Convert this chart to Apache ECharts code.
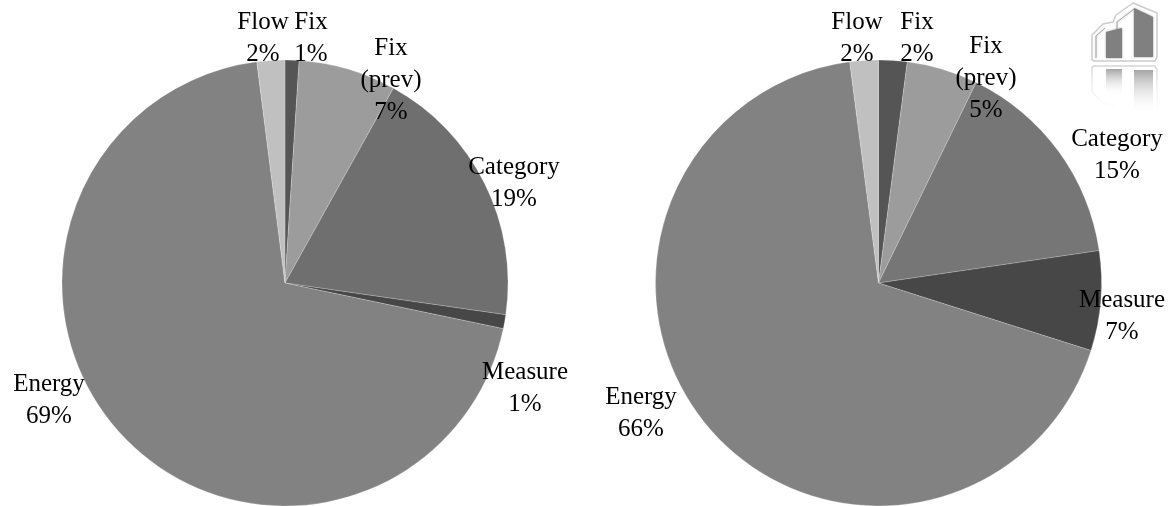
<!DOCTYPE html>
<html>
<head>
<meta charset="utf-8">
<style>html,body{margin:0;padding:0;background:#fff}#chart{width:1176px;height:506px}</style>
<script src="https://cdn.jsdelivr.net/npm/echarts@6/dist/echarts.min.js"></script>
</head>
<body>
<div id="chart"></div>
<script>
// Slice names, clockwise from twelve o'clock
const categories = ['Fix', 'Fix\n(prev)', 'Category', 'Measure', 'Energy', 'Flow'];
const leftValues = [1, 7, 19, 1, 69, 2];
const rightValues = [2, 5, 15, 7, 66, 2];

const leftColors = ['#555555', '#9c9c9c', '#6f6f6f', '#474747', '#828282', '#c0c0c0'];
const rightColors = ['#555555', '#9c9c9c', '#767676', '#474747', '#828282', '#c0c0c0'];

// Label centres in page pixels, one list per pie
const leftLabelSpots = [[311, 38], [391, 80], [514, 183], [525, 388], [49, 400], [263, 38]];
const rightLabelSpots = [[917, 38], [986, 78], [1117, 155], [1122, 316], [641, 413], [857, 38]];

function pie(values, colors, spots, center) {
  return {
    type: 'pie',
    center: center,
    radius: [0, 223],
    startAngle: 90,
    clockwise: true,
    silent: true,
    animation: false,
    data: categories.map((name, i) => ({ name, value: values[i], itemStyle: { color: colors[i] } })),
    itemStyle: { borderColor: 'rgba(255,255,255,0.35)', borderWidth: 0.6 },
    label: {
      show: true,
      position: 'outside',
      formatter: '{b}\n{c}%',
      fontFamily: '"Liberation Serif", serif',
      fontSize: 25,
      lineHeight: 32,
      color: '#000',
      align: 'center',
      overflow: 'none'
    },
    labelLine: { show: false },
    labelLayout: params => ({
      x: spots[params.dataIndex][0],
      y: spots[params.dataIndex][1],
      align: 'center',
      verticalAlign: 'middle',
      hideOverlap: false
    })
  };
}

// Company mark in the top right corner: two towers and their fading reflection
const towerOutline = [[1092,60],[1092,35],[1103,24],[1113,22],[1116,15],[1133,3],[1157,13],[1157,57],[1155,61],[1094,61]];
const leftArch = [[1096,58],[1096,36],[1105,28]];
const rightArch = [[1117,57],[1117,22],[1134,9]];
const towerLeft = [[1106,32],[1122,28],[1122,58],[1106,58]];
const towerRight = [[1134,8],[1153,17],[1153,57],[1134,57]];
const mirrorSum = 127;
const mirror = pts => pts.map(([x, y]) => [x, mirrorSum - y]);

function fade(from) {
  return new echarts.graphic.LinearGradient(0, 0, 0, 1, [
    { offset: 0, color: from },
    { offset: 0.9, color: 'rgba(255,255,255,0)' },
    { offset: 1, color: 'rgba(255,255,255,0)' }
  ]);
}

const soft = color => ({ shadowBlur: 2, shadowColor: color });

const logo = [
  { type: 'polygon', shape: { points: mirror(towerOutline) }, style: { fill: 'none', stroke: fade('rgba(205,205,205,0.9)'), lineWidth: 1.5 }, silent: true },
  { type: 'polygon', shape: { points: mirror(towerLeft) }, style: { fill: fade('rgba(165,165,165,1)') }, silent: true },
  { type: 'polygon', shape: { points: mirror(towerRight) }, style: { fill: fade('rgba(165,165,165,1)') }, silent: true },
  { type: 'polygon', shape: { points: towerOutline }, style: { fill: '#fff', stroke: '#cccccc', lineWidth: 1.5, lineJoin: 'round' }, silent: true },
  { type: 'polyline', shape: { points: leftArch }, style: { stroke: '#a8a8a8', lineWidth: 1, fill: 'none', ...soft('#bbbbbb') }, silent: true },
  { type: 'polyline', shape: { points: rightArch }, style: { stroke: '#a8a8a8', lineWidth: 1, fill: 'none', ...soft('#bbbbbb') }, silent: true },
  { type: 'polygon', shape: { points: towerLeft }, style: { fill: '#808080', ...soft('#808080') }, silent: true },
  { type: 'polygon', shape: { points: towerRight }, style: { fill: '#808080', ...soft('#808080') }, silent: true }
];

const chart = echarts.init(document.getElementById('chart'), null, { renderer: 'canvas' });
chart.setOption({
  backgroundColor: '#fff',
  animation: false,
  series: [
    pie(leftValues, leftColors, leftLabelSpots, [285, 283]),
    pie(rightValues, rightColors, rightLabelSpots, [878.5, 283])
  ],
  graphic: logo
});
</script>
</body>
</html>
